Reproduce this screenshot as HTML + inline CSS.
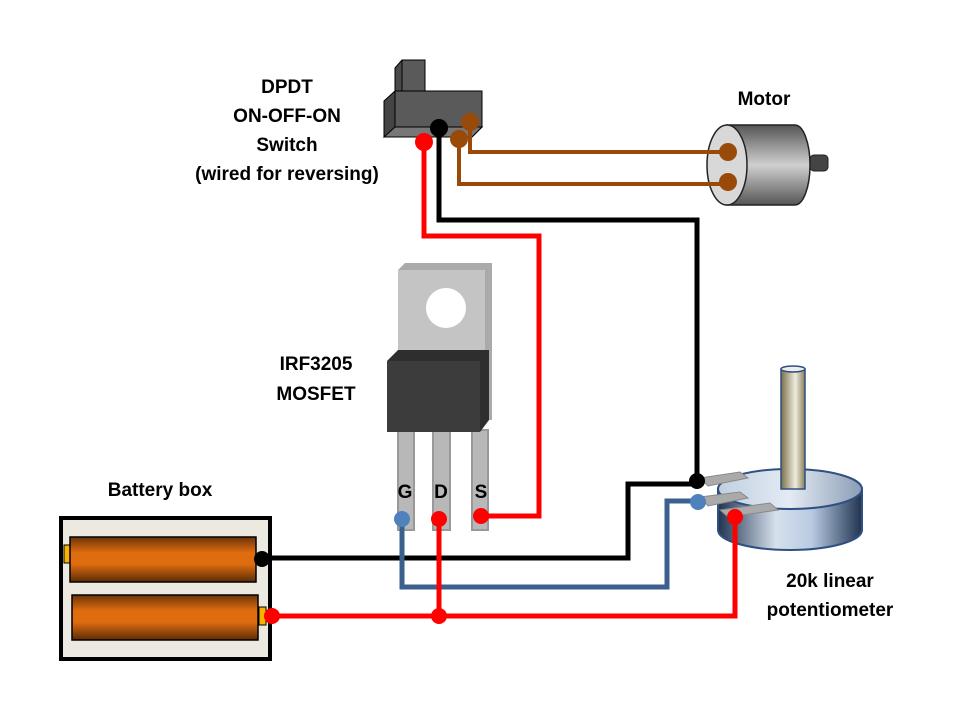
<!DOCTYPE html>
<html><head><style>
html,body{margin:0;padding:0;background:#fff;}
svg{display:block;}
text{font-family:"Liberation Sans",sans-serif;font-weight:bold;fill:#000;}
</style></head><body>
<svg width="960" height="720" viewBox="0 0 960 720" xmlns="http://www.w3.org/2000/svg">
<defs>
<linearGradient id="bat" x1="0" y1="0" x2="0" y2="1">
<stop offset="0" stop-color="#6b3408"/><stop offset="0.35" stop-color="#e06c10"/><stop offset="0.6" stop-color="#e06c10"/><stop offset="1" stop-color="#5a2c06"/>
</linearGradient>
<linearGradient id="mot" x1="0" y1="0" x2="0" y2="1">
<stop offset="0" stop-color="#555"/><stop offset="0.5" stop-color="#d0d0d0"/><stop offset="1" stop-color="#555"/>
</linearGradient>
<linearGradient id="pot" x1="0" y1="0" x2="1" y2="0">
<stop offset="0" stop-color="#1f3350"/><stop offset="0.4" stop-color="#d6e0ec"/><stop offset="0.65" stop-color="#b8cbe2"/><stop offset="1" stop-color="#1f3350"/>
</linearGradient>
<linearGradient id="pottop" x1="0" y1="0" x2="1" y2="0">
<stop offset="0" stop-color="#c0cfe0"/><stop offset="0.5" stop-color="#e4ebf4"/><stop offset="1" stop-color="#8a9cb4"/>
</linearGradient>
<linearGradient id="shaft" x1="0" y1="0" x2="1" y2="0">
<stop offset="0" stop-color="#7a6e48"/><stop offset="0.6" stop-color="#f0ede0"/><stop offset="1" stop-color="#8a7e58"/>
</linearGradient>
</defs>

<!-- labels -->
<g font-size="19" text-anchor="middle">
<text x="287" y="93">DPDT</text>
<text x="287" y="122">ON-OFF-ON</text>
<text x="287" y="151">Switch</text>
<text x="287" y="180">(wired for reversing)</text>
<text x="764" y="105">Motor</text>
<text x="316" y="370">IRF3205</text>
<text x="316" y="400">MOSFET</text>
<text x="160" y="496">Battery box</text>
<text x="830" y="587">20k linear</text>
<text x="830" y="616">potentiometer</text>
</g>

<!-- motor -->
<rect x="810" y="155" width="18" height="16" rx="4" fill="#444" stroke="#222"/>
<path d="M727,125 L795,125 A15,40 0 0 1 795,205 L727,205 Z" fill="url(#mot)" stroke="#222" stroke-width="1.5"/>
<ellipse cx="727" cy="165" rx="20" ry="40" fill="#d8d8d8" stroke="#222" stroke-width="1.5"/>

<!-- switch -->
<polygon points="395,68 402,60 425,60 425,92 395,92" fill="#4a4a4a" stroke="#000"/>
<rect x="402" y="60" width="23" height="32" fill="#5a5a5a" stroke="#000"/>
<polygon points="384,101 395,91 482,91 482,127 472,137 384,137" fill="#444" stroke="#000"/>
<rect x="395" y="91" width="87" height="36" fill="#5a5a5a" stroke="#000"/>
<polygon points="384,137 395,127 482,127 472,137" fill="#777" stroke="#000"/>

<!-- mosfet -->
<polygon points="398,270 405,263 492,263 492,420 485,420" fill="#aaa"/>
<rect x="398" y="270" width="87" height="150" fill="#c4c4c4"/>
<circle cx="446" cy="308" r="20" fill="#fff"/>
<g fill="#b8b8b8" stroke="#999" stroke-width="2">
<rect x="398" y="430" width="16" height="100"/>
<rect x="433" y="430" width="17" height="100"/>
<rect x="472" y="430" width="16" height="100"/>
</g>
<polygon points="387,361 398,350 489,350 489,420 480,432 387,432" fill="#2e2e2e"/>
<rect x="387" y="361" width="93" height="71" fill="#3c3c3c"/>
<g font-size="19" text-anchor="middle">
<text x="405" y="498">G</text><text x="441" y="498">D</text><text x="481" y="498">S</text>
</g>

<!-- battery box -->
<rect x="61" y="518" width="209" height="141" fill="#ece9e0" stroke="#000" stroke-width="4"/>
<rect x="64" y="545" width="7" height="18" fill="#f6b400" stroke="#000"/>
<rect x="70" y="537" width="186" height="45" fill="url(#bat)" stroke="#000" stroke-width="1.5"/>
<rect x="72" y="595" width="186" height="45" fill="url(#bat)" stroke="#000" stroke-width="1.5"/>
<rect x="259" y="607" width="7" height="18" fill="#f6b400" stroke="#000"/>

<!-- pot -->
<path d="M718,489 L718,530 A72,20 0 0 0 862,530 L862,489 Z" fill="url(#pot)" stroke="#2f5080" stroke-width="2"/>
<ellipse cx="790" cy="489" rx="72" ry="20" fill="url(#pottop)" stroke="#2f5080" stroke-width="2"/>
<rect x="781" y="369" width="24" height="120" fill="url(#shaft)" stroke="#2f5080" stroke-width="1.5"/>
<ellipse cx="793" cy="369" rx="12" ry="3" fill="#eee" stroke="#2f5080" stroke-width="1.5"/>
<g fill="#aaa" stroke="#888">
<polygon points="700,478 740,472 748,478 708,486"/>
<polygon points="700,497 740,492 748,498 708,506"/>
<polygon points="720,510 770,503 778,510 728,517"/>
</g>

<!-- wires -->
<g fill="none" stroke-width="5" stroke-linejoin="miter">
<polyline points="470,122 470,152 728,152" stroke="#9a4a08" stroke-width="4"/>
<polyline points="459,139 459,184 728,184" stroke="#9a4a08" stroke-width="4"/>
<polyline points="424,142 424,236 539,236 539,516 481,516" stroke="#ff0000"/>
<polyline points="439,128 439,220 697,220 697,481" stroke="#000"/>
<polyline points="262,558 628,558 628,484 698,484" stroke="#000"/>
<polyline points="402,519 402,587 667,587 667,501 698,501" stroke="#3b5f8f"/>
<polyline points="272,616 735,616 735,517" stroke="#ff0000"/>
<polyline points="439,519 439,616" stroke="#ff0000"/>
</g>

<!-- dots -->
<circle cx="439" cy="128" r="9" fill="#000"/>
<circle cx="424" cy="142" r="9" fill="#ff0000"/>
<circle cx="459" cy="139" r="9" fill="#9a4a08"/>
<circle cx="470" cy="122" r="9" fill="#9a4a08"/>
<circle cx="728" cy="152" r="9" fill="#9a4a08"/>
<circle cx="728" cy="182" r="9" fill="#9a4a08"/>
<circle cx="402" cy="519" r="8" fill="#4f81bd"/>
<circle cx="439" cy="519" r="8" fill="#ff0000"/>
<circle cx="481" cy="516" r="8" fill="#ff0000"/>
<circle cx="262" cy="559" r="8" fill="#000"/>
<circle cx="272" cy="616" r="8" fill="#ff0000"/>
<circle cx="439" cy="616" r="8" fill="#ff0000"/>
<circle cx="697" cy="481" r="8" fill="#000"/>
<circle cx="698" cy="502" r="8" fill="#4f81bd"/>
<circle cx="735" cy="517" r="8" fill="#ff0000"/>
</svg>
</body></html>
